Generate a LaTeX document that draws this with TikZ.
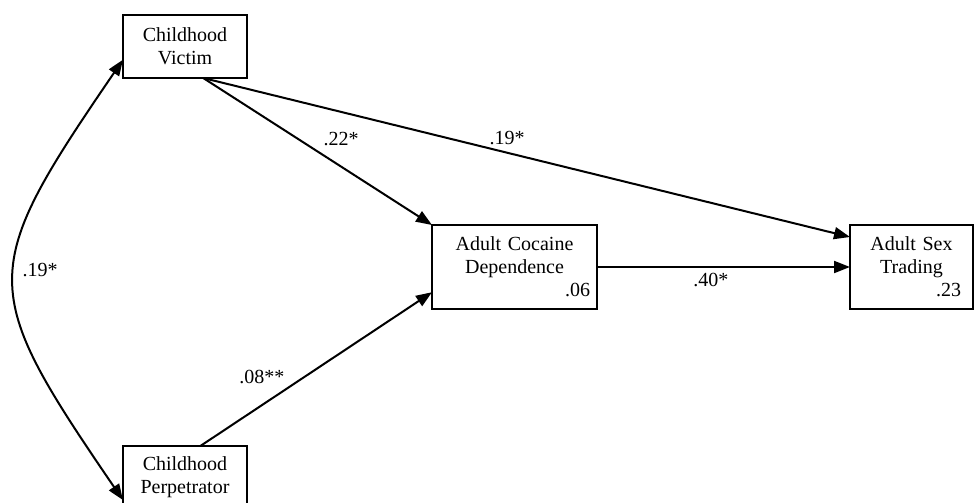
\documentclass[tikz,border=0pt]{standalone}
\usepackage{fontspec}
\setmainfont{Liberation Serif}
\usetikzlibrary{arrows.meta}

\begin{document}
\begin{tikzpicture}[x=0.5pt,y=-0.5pt,inner sep=0pt,outer sep=0pt,line width=1pt,
font=\fontsize{10}{11.5}\selectfont,>={Triangle[length=8pt,width=6pt]},
varblock/.style={draw,rectangle,line width=0.7pt,inner xsep=3.5pt,align=center},
coef/.style={inner sep=1pt}]
\useasboundingbox (0,0) rectangle (974,503);
\draw (185,46.5) node[varblock,minimum width=62pt,minimum height=31.5pt,text width=55pt] (victim) {Childhood\\Victim};
\draw (185,477.5) node[varblock,minimum width=62pt,minimum height=31.5pt,text width=55pt] (perp) {Childhood\\Perpetrator};
\draw (514.5,267) node[varblock,minimum width=82.5pt,minimum height=42pt,text width=75.5pt] (cocaine) {Adult Cocaine\\Dependence\\\hspace*{0pt plus 1filll}.06};
\draw (911.5,267) node[varblock,inner xsep=6pt,minimum width=61.5pt,minimum height=42pt,text width=49.5pt] (sex) {Adult Sex\\Trading\\\hspace*{0pt plus 1filll}.23};

\draw[->] (victim.-60) -- (cocaine.north west) node[coef,pos=0.5,above right=2pt] {.22*};
\draw[->] (victim.-60) -- (sex.154) node[coef,pos=0.47,above=3pt] {.19*};
\draw[->] (cocaine) -- (sex) node[coef,pos=0.45,below=2pt] {.40*};
\draw[->] (perp.64) -- (cocaine.197) node[coef,pos=0.38,above left=1pt] {.08**};
% correlation between the two childhood variables
\draw[<->] (victim.192) .. controls +(-145,212) and +(-145,-212) .. (perp.200) node[coef,pos=0.47,right=3pt] {.19*};
\end{tikzpicture}
\end{document}
